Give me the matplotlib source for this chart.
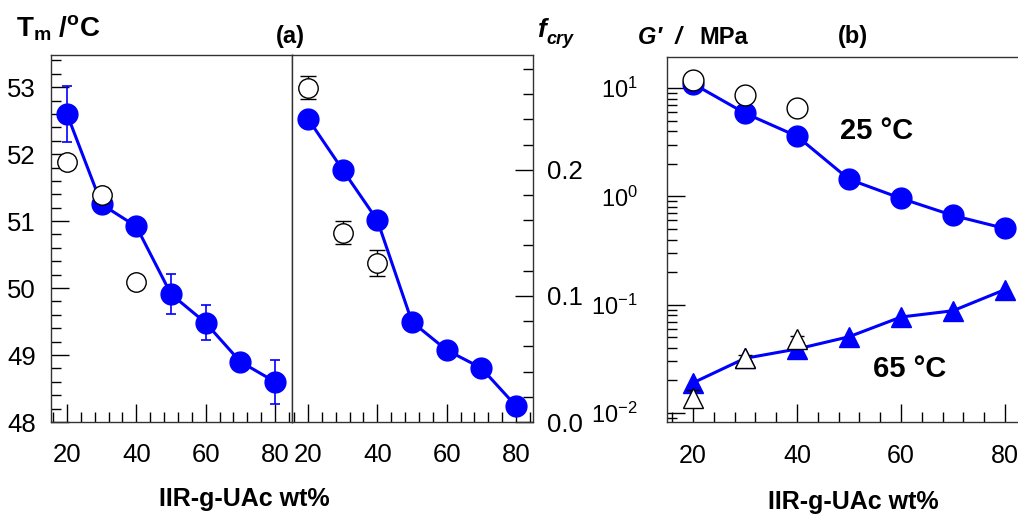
import matplotlib
matplotlib.use('Agg')
import matplotlib.pyplot as plt
from matplotlib.ticker import MultipleLocator, LogLocator, NullFormatter, FixedLocator

plt.rcParams['font.family'] = ['Liberation Sans', 'DejaVu Sans']
plt.rcParams['mathtext.fontset'] = 'custom'
plt.rcParams['mathtext.rm'] = 'Liberation Sans'
plt.rcParams['mathtext.it'] = 'Liberation Sans:italic'
plt.rcParams['mathtext.bf'] = 'Liberation Sans:bold'

# ---------------- data ----------------
wt = [20, 30, 40, 50, 60, 70, 80]
tm_filled = [52.60, 51.25, 50.92, 49.91, 49.48, 48.90, 48.60]
tm_filled_err = [0.42, 0.05, 0.05, 0.30, 0.26, 0.05, 0.33]
open_x = [20, 30, 40]
tm_open = [51.88, 51.39, 50.09]

fcry_filled = [0.2405, 0.200, 0.160, 0.0794, 0.057, 0.0428, 0.0127]
fcry_open = [0.265, 0.150, 0.126]
fcry_open_err = [0.009, 0.009, 0.010]

g25_filled = [11.0, 5.87, 3.60, 1.44, 0.96, 0.667, 0.506]
g25_open = [11.9, 8.6, 6.5]
g65_filled = [0.019, 0.032, 0.039, 0.0506, 0.077, 0.088, 0.138]
g65_open = [0.0138, 0.032, 0.048]
g65_open_err = [0.0024, 0.002, 0.003]

x_ticks = [20, 40, 60, 80]
tm_ticks = [48, 49, 50, 51, 52, 53]
fcry_ticks = [0.0, 0.1, 0.2]
fcry_ticklabels = ['0.0', '0.1', '0.2']

BLUE = '#0000ff'
SPINE = '#333333'

W, H = 1018, 515
fig = plt.figure(figsize=(W / 100, H / 100), dpi=100)


def pos(x0, x1, ytop, ybot):
    return [x0 / W, 1 - ybot / H, (x1 - x0) / W, (ybot - ytop) / H]


def style(ax, labelsize=18.5, ypad=11, xpad=15):
    for s in ax.spines.values():
        s.set_color(SPINE)
        s.set_linewidth(1.0)
    ax.tick_params(which='major', direction='in', length=13, width=1.0,
                   color='black', labelsize=labelsize)
    ax.tick_params(which='minor', direction='in', length=7, width=1.0,
                   color='black')
    ax.tick_params(axis='y', which='major', pad=ypad)
    ax.tick_params(axis='x', which='major', pad=xpad)
    ax.xaxis.set_major_locator(FixedLocator(x_ticks))
    ax.xaxis.set_minor_locator(MultipleLocator(4))


# ---------------- panel (a) left: Tm ----------------
ax1 = fig.add_axes(pos(51, 292, 55, 422))
style(ax1)
ax1.errorbar(wt, tm_filled, yerr=tm_filled_err, color=BLUE, lw=2.2,
             marker='o', ms=15, mfc=BLUE, mec=BLUE, ecolor=BLUE,
             elinewidth=1.2, capsize=3.5, capthick=1.2, zorder=3)
ax1.plot(open_x, tm_open, ls='none', marker='o', ms=14, mfc='white',
         mec='black', mew=1.0, zorder=4)
ax1.set_xlim(15.4, 84.9)
ax1.set_ylim(48, 53.48)
ax1.yaxis.set_major_locator(FixedLocator(tm_ticks))
ax1.yaxis.set_minor_locator(MultipleLocator(0.2))
ax1.tick_params(top=False, right=False, which='both')

# ---------------- panel (a) right: fcry ----------------
ax2 = fig.add_axes(pos(292, 533, 55, 422))
style(ax2, ypad=10)
ax2.plot(wt, fcry_filled, color=BLUE, lw=2.2, marker='o', ms=15,
         mfc=BLUE, mec=BLUE, zorder=3)
ax2.errorbar(open_x, fcry_open, yerr=fcry_open_err, ls='none', marker='o',
             ms=14, mfc='white', mec='black', mew=1.0, ecolor='black',
             elinewidth=1.0, capsize=6, capthick=1.0, zorder=4)
ax2.set_xlim(15.4, 84.9)
ax2.set_ylim(0, 0.291)
ax2.yaxis.tick_right()
ax2.yaxis.set_major_locator(FixedLocator(fcry_ticks))
ax2.set_yticklabels(fcry_ticklabels)
ax2.yaxis.set_minor_locator(MultipleLocator(0.02))
ax2.tick_params(axis='y', which='both', left=False, right=True)
ax2.tick_params(top=False, which='both')

# ---------------- panel (b): G' ----------------
ax3 = fig.add_axes(pos(667, 1031, 57, 422))
style(ax3, labelsize=18, ypad=21, xpad=16)
ax3.set_yscale('log')
ax3.plot(wt, g25_filled, color=BLUE, lw=2.2, marker='o', ms=15,
         mfc=BLUE, mec=BLUE, zorder=3)
ax3.plot(open_x, g25_open, ls='none', marker='o', ms=15, mfc='white',
         mec='black', mew=1.0, zorder=4)
ax3.plot(wt, g65_filled, color=BLUE, lw=2.2, marker='^', ms=15,
         mfc=BLUE, mec=BLUE, zorder=3)
ax3.errorbar(open_x, g65_open, yerr=g65_open_err, ls='none', marker='^',
             ms=14, mfc='white', mec='black', mew=1.0, ecolor='black',
             elinewidth=1.0, capsize=5, capthick=1.0, zorder=4)
ax3.set_xlim(15, 85)
ax3.set_ylim(0.00826, 19.4)
ax3.yaxis.set_major_locator(LogLocator(base=10, numticks=10))
ax3.yaxis.set_minor_locator(LogLocator(base=10, subs=range(2, 10), numticks=20))
ax3.yaxis.set_minor_formatter(NullFormatter())
ax3.tick_params(axis='y', which='major', labelsize=17)
ax3.spines['right'].set_visible(False)
ax3.tick_params(top=False, right=False, which='both')

# ---------------- texts ----------------
def ftext(x, y, s, **kw):
    fig.text(x / W, 1 - y / H, s, **kw)

ftext(16, 28, r'$\mathbf{T_m}$ $\mathbf{/}$$\mathbf{^oC}$', fontsize=20,
      ha='left', va='center')
ftext(290, 37, '(a)', fontsize=17, fontweight='bold', ha='center', va='center')
ftext(537, 30, 'f', fontsize=19, fontweight='bold', fontstyle='italic',
      ha='left', va='center')
ftext(546, 39, 'cry', fontsize=13, fontweight='bold', fontstyle='italic',
      ha='left', va='center')
ftext(638, 38, "G\u2032  /", fontsize=17, fontweight='bold', fontstyle='italic',
      ha='left', va='center')
ftext(699, 38, 'MPa', fontsize=17, fontweight='bold', ha='left', va='center')
ftext(853, 37, '(b)', fontsize=17, fontweight='bold', ha='center', va='center')
ftext(877, 131, '25 \u00b0C', fontsize=21, fontweight='bold', ha='center',
      va='center')
ftext(910, 369, '65 \u00b0C', fontsize=21, fontweight='bold', ha='center',
      va='center')
ftext(244, 499, 'IIR-g-UAc wt%', fontsize=18, fontweight='bold', ha='center',
      va='center')
ftext(853, 502, 'IIR-g-UAc wt%', fontsize=18, fontweight='bold', ha='center',
      va='center')

fig.savefig('out.png', dpi=100)
